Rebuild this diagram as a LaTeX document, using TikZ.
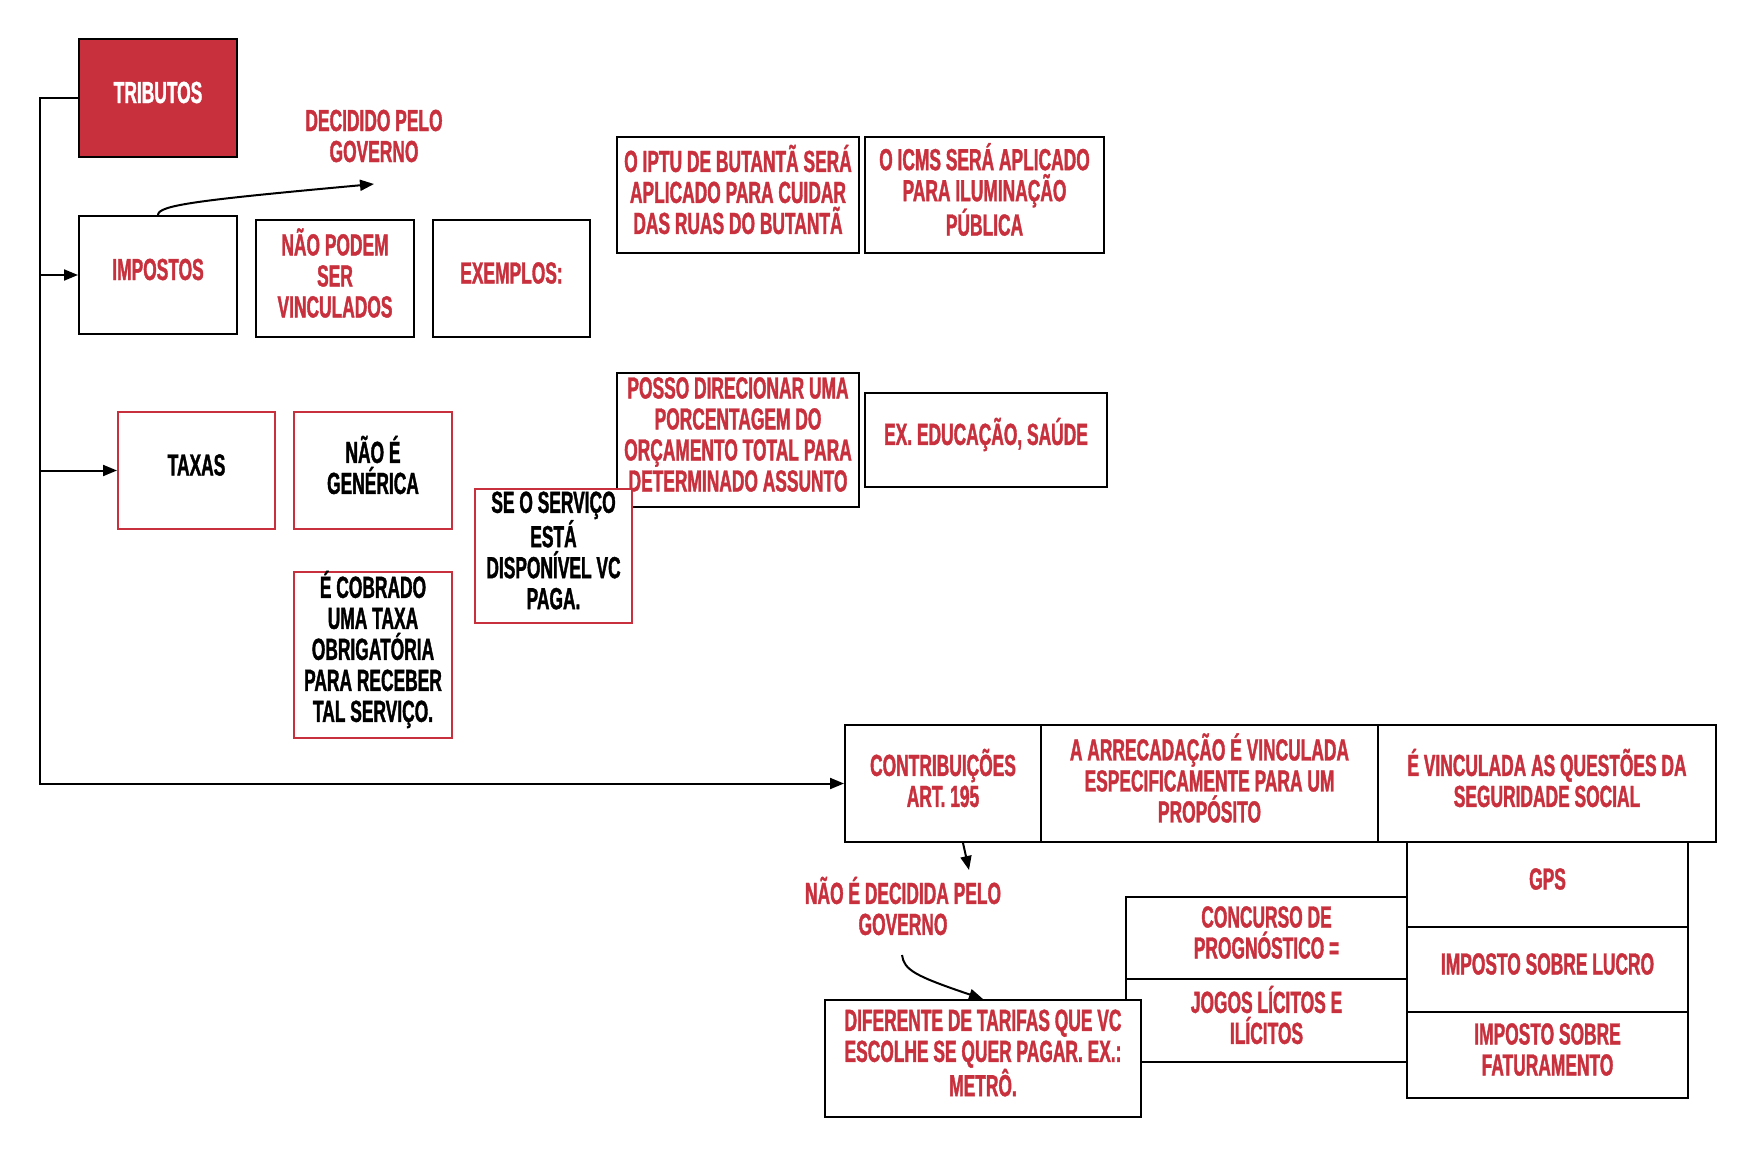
\documentclass[tikz,border=0pt]{standalone}
\usepackage{fontspec}
\setmainfont{Liberation Sans}[UprightFont=* Bold, BoldFont=* Bold, FakeStretch=0.57, FakeBold=1.2]
\usetikzlibrary{arrows.meta,fit}
\definecolor{rd}{HTML}{C8303D}
% box #1 from (#2,#3) to (#4,#5), style #6, text #7 (text node named #1t)
\newcommand\bx[7]{\node[#6, fit={(#2,#3) (#4,#5)}] (#1) {};
  \node[#6, draw=none, fill=none] (#1t) at ([yshift=5.5pt]#1.center) {#7};}
\begin{document}
\begin{tikzpicture}[x=1pt,y=-1pt,
  every node/.style={font=\fontsize{30.5}{31}\selectfont, align=center, inner sep=0pt},
  tribbox/.style={draw=black, fill=rd, text=white, line width=2pt},
  bbox/.style={draw=black, fill=white, text=rd, line width=2pt},
  rbox/.style={draw=rd, fill=white, text=black, line width=2pt},
  lbl/.style={text=rd},
  conn/.style={draw=black, line width=2pt},
  arr/.style={conn, -{Triangle[length=14pt,width=11pt]}}]
\useasboundingbox (0,0) rectangle (1755,1156);
% top group
\bx{trib}{79}{39}{237}{157}{tribbox}{TRIBUTOS}
\bx{imp}{79}{216}{237}{334}{bbox}{IMPOSTOS}
\bx{naopodem}{256}{220}{414}{337}{bbox}{NÃO PODEM\\SER\\VINCULADOS}
\bx{exemplos}{433}{220}{590}{337}{bbox}{EXEMPLOS:}
\node[lbl] (decidido) at (374,136) {DECIDIDO PELO\\GOVERNO};
\bx{iptu}{617}{137}{859}{253}{bbox}{O IPTU DE BUTANTÃ SERÁ\\APLICADO PARA CUIDAR\\DAS RUAS DO BUTANTÃ}
\bx{icms}{865}{137}{1104}{253}{bbox}{O ICMS SERÁ APLICADO\\PARA ILUMINAÇÃO\\PÚBLICA}
\bx{posso}{617}{373}{859}{507}{bbox}{POSSO DIRECIONAR UMA\\PORCENTAGEM DO\\ORÇAMENTO TOTAL PARA\\DETERMINADO ASSUNTO}
\bx{educ}{865}{393}{1107}{487}{bbox}{EX. EDUCAÇÃO, SAÚDE}
% taxas group
\bx{taxas}{118}{412}{275}{529}{rbox}{TAXAS}
\bx{generica}{294}{412}{452}{529}{rbox}{NÃO É\\GENÉRICA}
\bx{cobrado}{294}{572}{452}{738}{rbox}{É COBRADO\\UMA TAXA\\OBRIGATÓRIA\\PARA RECEBER\\TAL SERVIÇO.}
\bx{servico}{475}{489}{632}{623}{rbox}{SE O SERVIÇO\\ESTÁ\\DISPONÍVEL VC\\PAGA.}
% contribuicoes group
\bx{contrib}{845}{725}{1041}{842}{bbox}{CONTRIBUIÇÕES\\ART. 195}
\bx{arrec}{1041}{725}{1378}{842}{bbox}{A ARRECADAÇÃO É VINCULADA\\ESPECIFICAMENTE PARA UM\\PROPÓSITO}
\bx{segur}{1378}{725}{1716}{842}{bbox}{É VINCULADA AS QUESTÕES DA\\SEGURIDADE SOCIAL}
\bx{gps}{1407}{842}{1688}{927}{bbox}{GPS}
\bx{lucro}{1407}{927}{1688}{1012}{bbox}{IMPOSTO SOBRE LUCRO}
\bx{fatur}{1407}{1012}{1688}{1098}{bbox}{IMPOSTO SOBRE\\FATURAMENTO}
\bx{concurso}{1126}{897}{1407}{979}{bbox}{CONCURSO DE\\PROGNÓSTICO =}
\bx{jogos}{1126}{979}{1407}{1062}{bbox}{JOGOS LÍCITOS E\\ILÍCITOS}
\bx{difer}{825}{1000}{1141}{1117}{bbox}{DIFERENTE DE TARIFAS QUE VC\\ESCOLHE SE QUER PAGAR. EX.:\\METRÔ.}
\node[lbl] (naodecid) at (903,906) {NÃO É DECIDIDA PELO\\GOVERNO};
% connectors
\coordinate (spine) at (40,98);
\draw[arr] (trib.west) -| (spine) |- (contrib.west);
\draw[arr] (imp.west -| spine) -- (imp.west);
\draw[arr] (taxas.west -| spine) -- (taxas.west);
\coordinate (decTip) at (374,184);
\draw[arr] (imp.north) .. controls (158,205) and (200,200) .. (decTip);
\coordinate (cStart) at (963,843);
\coordinate (cTip) at (969,870);
\draw[arr] (cStart) -- (cTip);
\coordinate (dStart) at (902,955);
\draw[arr] (dStart) .. controls (904,970) and (915,976) .. (difer.north);
\end{tikzpicture}
\end{document}
